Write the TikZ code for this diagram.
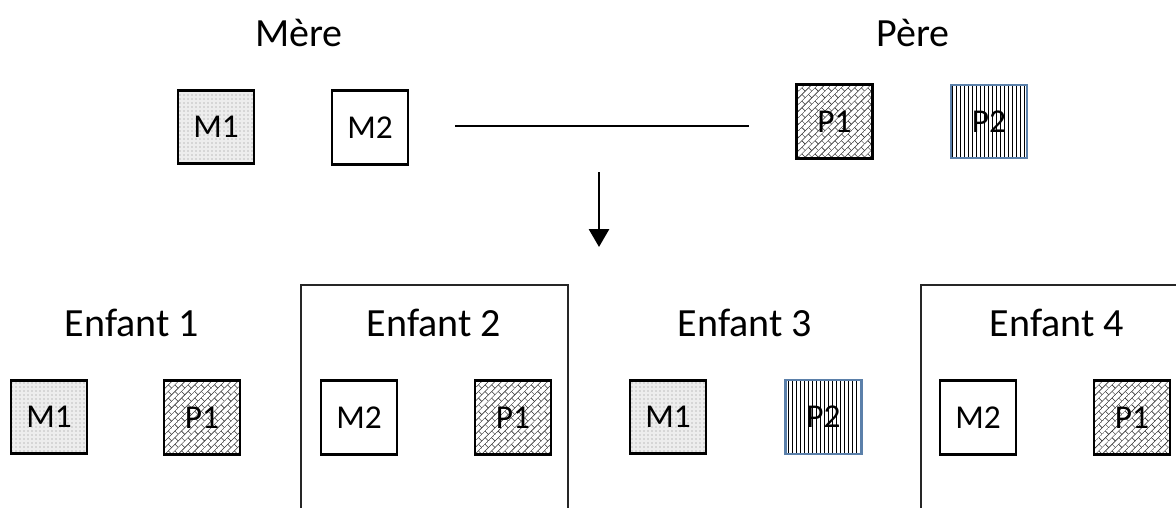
\documentclass[tikz,border=0pt]{standalone}
\usepackage{fontspec}
\setmainfont{Carlito}
\usetikzlibrary{patterns,patterns.meta,arrows.meta}
\tikzdeclarepattern{
  name=diagbrick,
  type=uncolored,
  bottom left={(-0.1pt,-0.1pt)},
  top right={(7.1pt,7.1pt)},
  tile size={(7pt,7pt)},
  tile transformation={rotate=45},
  code={
    \draw[line width=0.45pt] (0,0) -- (7pt,0);
    \draw[line width=0.45pt] (0,3.5pt) -- (7pt,3.5pt);
    \draw[line width=0.45pt] (0,0) -- (0,3.5pt);
    \draw[line width=0.45pt] (3.5pt,3.5pt) -- (3.5pt,7pt);
  }
}
\definecolor{pblue}{HTML}{5B80AA}
\tikzset{
  gene/.style={minimum width=57pt,minimum height=55pt,inner sep=0pt,line width=2.1pt,draw=black,font=\fontsize{25pt}{28pt}\selectfont},
  mone/.style={gene,preaction={fill=black!7},pattern=dots,pattern color=black!45},
  mtwo/.style={gene,fill=white},
  pone/.style={gene,pattern=diagbrick,pattern color=black!80},
  ptwo/.style={gene,draw=pblue,line width=1.6pt,pattern=vertical lines,pattern color=black},
  ttl/.style={font=\fontsize{30pt}{34pt}\selectfont,inner sep=0pt},
  frame/.style={draw=black!85,line width=1.1pt},
  link/.style={line width=2pt},
  down/.style={line width=2.2pt,-{Triangle[width=15pt,length=13.5pt]}}
}
\begin{document}
\begin{tikzpicture}[x=0.75pt,y=-0.75pt]
\useasboundingbox (0,0) rectangle (1176,507);
\clip (0,0) rectangle (1176,507);
% frames
\draw[frame] (301,600) -- (301,285) -- (568,285) -- (568,600);
\draw[frame] (921,600) -- (921,285) -- (1190,285);
% parents
\node[ttl] (mere) at (299,33) {Mère};
\node[ttl] (pere) at (913,33) {Père};
\node[mone] (pm1) at (216,127) {M1};
\node[mtwo] (pm2) at (370,127.5) {M2};
\node[pone] (pp1) at (834.5,121.5) {P1};
\node[ptwo] (pp2) at (989,121.5) {P2};
\coordinate (la) at (455,126);
\coordinate (lb) at (749,126);
\draw[link] (la) -- (lb);
\coordinate (aa) at (599,172);
\coordinate (ab) at (599,247);
\draw[down] (aa) -- (ab);
% children
\node[ttl] (e1) at (132,323) {Enfant 1};
\node[ttl] (e2) at (434,323) {Enfant 2};
\node[ttl] (e3) at (745,323) {Enfant 3};
\node[ttl] (e4) at (1057,323) {Enfant 4};
\node[mone] (c1m) at (49,417) {M1};
\node[pone] (c1p) at (202,417.5) {P1};
\node[mtwo] (c2m) at (359,417.5) {M2};
\node[pone] (c2p) at (513,417.5) {P1};
\node[mone] (c3m) at (668,417) {M1};
\node[ptwo] (c3p) at (823.5,417) {P2};
\node[mtwo] (c4m) at (978,417.5) {M2};
\node[pone] (c4p) at (1132,417.5) {P1};
\end{tikzpicture}
\end{document}
